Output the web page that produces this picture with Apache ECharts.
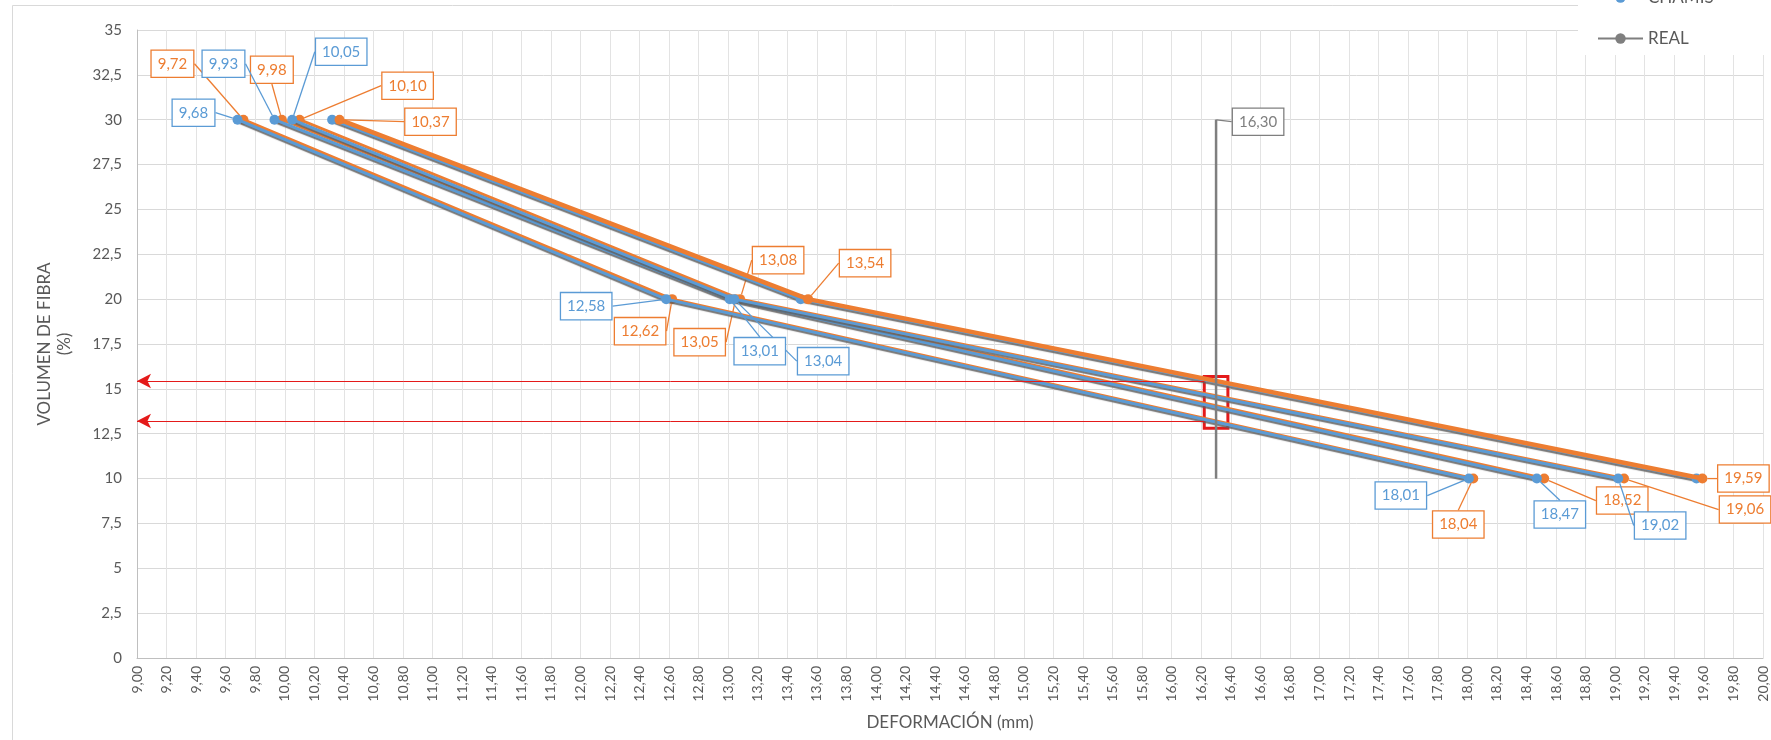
<!DOCTYPE html>
<html>
<head>
<meta charset="utf-8">
<script src="https://cdn.jsdelivr.net/npm/echarts@6/dist/echarts.min.js"></script>
<style>
  html, body { margin: 0; padding: 0; background: #fff; }
  #chart { width: 1771px; height: 740px; }
</style>
</head>
<body>
<div id="chart"></div>
<script>
// Fibre volume (%) levels shared by every curve
const volumen = [30, 20, 10];

// Deformation (mm) per curve, CHAMIS model (blue)
const chamis1 = [9.68, 12.58, 18.01];
const chamis2 = [9.93, 13.01, 18.47];
const chamis3 = [10.05, 13.04, 19.02];
const chamis4 = [10.32, 13.49, 19.55];

// Deformation (mm) per curve, second model (orange)
const modelo1 = [9.72, 12.62, 18.04];
const modelo2 = [9.98, 13.05, 18.52];
const modelo3 = [10.10, 13.08, 19.06];
const modelo4 = [10.37, 13.54, 19.59];

// Measured deformation
const realX = 16.30;
const realY = [10, 30];

// Axis ranges / ticks
const xMin = 9, xMax = 20, xStep = 0.2;
const yMin = 0, yMax = 35, yStep = 2.5;

// Label placement (pixel offsets of each callout from its point); null = no label
const offChamis = [
  [[-44, -7], [-80, 7], [-68, 17]],
  [[-51, -56], [30, 52], [23, 36]],
  [[49, -68], [89, 62], [42, 47]],
  null
];
const offModelo = [
  [[-71, -56], [-32, 32], [-15, 46]],
  [[-10, -50], [-36, 43], [78, 22]],
  [[108, -34], [38, -39], [121, 31]],
  [[91, 2], [57, -36], [41, 0]]
];

const BLUE = '#5b9bd5', ORANGE = '#ed7d31', GRAY = '#7f7f7f', RED = '#e41a1a';
const FONT = 'Lato, "Open Sans", sans-serif';
const fmt = v => v.toFixed(2).replace('.', ',');

// interpolate a curve's volume at a given deformation (segment containing x)
function volumeAt(xs, x) {
  for (let i = 0; i < xs.length - 1; i++) {
    const a = xs[i], b = xs[i + 1];
    if ((x - a) * (x - b) <= 0) {
      return volumen[i] + (volumen[i + 1] - volumen[i]) * (x - a) / (b - a);
    }
  }
  return null;
}
const yHigh = volumeAt(modelo4, realX);
const yLow = volumeAt(modelo1, realX);

function pts(xs) { return xs.map((x, i) => [x, volumen[i]]); }

const labelBox = color => ({
  color: color,
  fontFamily: FONT,
  fontSize: 15,
  backgroundColor: '#fff',
  borderColor: color,
  borderWidth: 1.3,
  padding: [6, 6, 5, 6]
});

function makeSeries(name, xs, color, offsets, z, width, shadow) {
  return {
    name: name,
    type: 'line',
    z: z,
    data: pts(xs),
    symbol: 'circle',
    symbolSize: 10,
    itemStyle: { color: color },
    lineStyle: Object.assign({ color: color, width: width }, shadow ? {
      shadowColor: 'rgba(95,95,95,0.85)', shadowBlur: 1, shadowOffsetX: 0, shadowOffsetY: 2
    } : {}),
    label: Object.assign({ show: !!offsets, formatter: p => fmt(p.value[0]) }, labelBox(color)),
    labelLine: { show: !!offsets, lineStyle: { color: color, width: 1.3 } },
    labelLayout: offsets ? function (p) {
      const o = offsets[p.dataIndex];
      return {
        x: p.rect.x + p.rect.width / 2 + o[0],
        y: p.rect.y + p.rect.height / 2 + o[1],
        align: 'center', verticalAlign: 'middle'
      };
    } : null,
    animation: false
  };
}

const series = [
  makeSeries('MODELO', modelo1, ORANGE, offModelo[0], 2, 3, false),
  makeSeries('MODELO', modelo2, ORANGE, offModelo[1], 2, 3, false),
  makeSeries('MODELO', modelo3, ORANGE, offModelo[2], 2, 3, false),
  makeSeries('CHAMIS', chamis1, BLUE, offChamis[0], 3, 3, true),
  makeSeries('CHAMIS', chamis2, BLUE, offChamis[1], 3, 3, true),
  makeSeries('CHAMIS', chamis3, BLUE, offChamis[2], 3, 3, true),
  makeSeries('CHAMIS', chamis4, BLUE, offChamis[3], 3, 3, true),
  makeSeries('MODELO', modelo4, ORANGE, offModelo[3], 4, 4.5, false),
  {
    name: 'REAL',
    type: 'line',
    z: 5,
    // only the upper end of the measured line carries a callout
    data: realY.map((y, i) => i === realY.length - 1
      ? { value: [realX, y] }
      : { value: [realX, y], label: { show: false }, labelLine: { show: false } }),
    symbol: 'circle',
    symbolSize: 1,
    showSymbol: true,
    itemStyle: { color: GRAY },
    lineStyle: { color: GRAY, width: 2.5 },
    label: Object.assign({ show: true, formatter: p => fmt(p.value[0]) }, labelBox(GRAY)),
    labelLine: { show: true, lineStyle: { color: GRAY, width: 1.3 } },
    labelLayout: function (p) {
      return {
        x: p.rect.x + p.rect.width / 2 + 42,
        y: p.rect.y + p.rect.height / 2 + 2,
        align: 'center', verticalAlign: 'middle'
      };
    },
    markArea: {
      silent: true,
      itemStyle: { color: 'rgba(0,0,0,0)', borderColor: RED, borderWidth: 3 },
      data: [[{ coord: [realX - 0.08, yHigh + 0.25] }, { coord: [realX + 0.08, yLow - 0.4] }]]
    },
    markLine: {
      silent: true,
      symbol: ['arrow', 'none'],
      symbolSize: [11, 14],
      label: { show: false },
      lineStyle: { color: RED, width: 1, type: 'solid' },
      data: [
        [{ coord: [xMin, yHigh] }, { coord: [realX - 0.08, yHigh] }],
        [{ coord: [xMin, yLow] }, { coord: [realX - 0.08, yLow] }]
      ]
    },
    animation: false
  }
];

const chart = echarts.init(document.getElementById('chart'));
chart.setOption({
  backgroundColor: '#fff',
  animation: false,
  textStyle: { fontFamily: FONT },
  grid: { left: 137, right: 8, top: 30, bottom: 82 },
  graphic: [
    {
      type: 'rect', z: 0, silent: true,
      shape: { x: 12.5, y: 5.5, width: 1800, height: 800 },
      style: { fill: 'none', stroke: '#d9d9d9', lineWidth: 1 }
    },
    {
      type: 'rect', z: 50, silent: true,
      shape: { x: 1578, y: 0, width: 200, height: 55 },
      style: { fill: '#fff' }
    }
  ],
  legend: {
    z: 60,
    orient: 'vertical',
    left: 1592,
    top: -16,
    itemGap: 24,
    itemWidth: 45,
    itemHeight: 13,
    data: ['CHAMIS', 'REAL'],
    textStyle: { color: '#595959', fontSize: 17, fontFamily: FONT }
  },
  xAxis: {
    type: 'value',
    min: xMin, max: xMax, interval: xStep,
    name: 'DEFORMACIÓN (mm)',
    nameLocation: 'middle',
    nameGap: 56,
    nameTextStyle: { color: '#595959', fontSize: 17, fontFamily: FONT },
    axisLine: { lineStyle: { color: '#bfbfbf' } },
    axisTick: { show: false },
    splitLine: { lineStyle: { color: '#e3e3e3' } },
    axisLabel: {
      rotate: 90, color: '#595959', fontSize: 14, fontFamily: FONT, margin: 8,
      formatter: v => fmt(v)
    }
  },
  yAxis: {
    type: 'value',
    min: yMin, max: yMax, interval: yStep,
    name: 'VOLUMEN DE FIBRA\n(%)',
    nameLocation: 'middle',
    nameGap: 62,
    nameTextStyle: { color: '#595959', fontSize: 17, lineHeight: 20, align: 'center', fontFamily: FONT },
    axisLine: { show: true, lineStyle: { color: '#bfbfbf' } },
    axisTick: { show: false },
    splitLine: { lineStyle: { color: '#d9d9d9' } },
    axisLabel: {
      color: '#595959', fontSize: 15, fontFamily: FONT, margin: 15,
      formatter: v => String(v).replace('.', ',')
    }
  },
  series: series
});
</script>
</body>
</html>
